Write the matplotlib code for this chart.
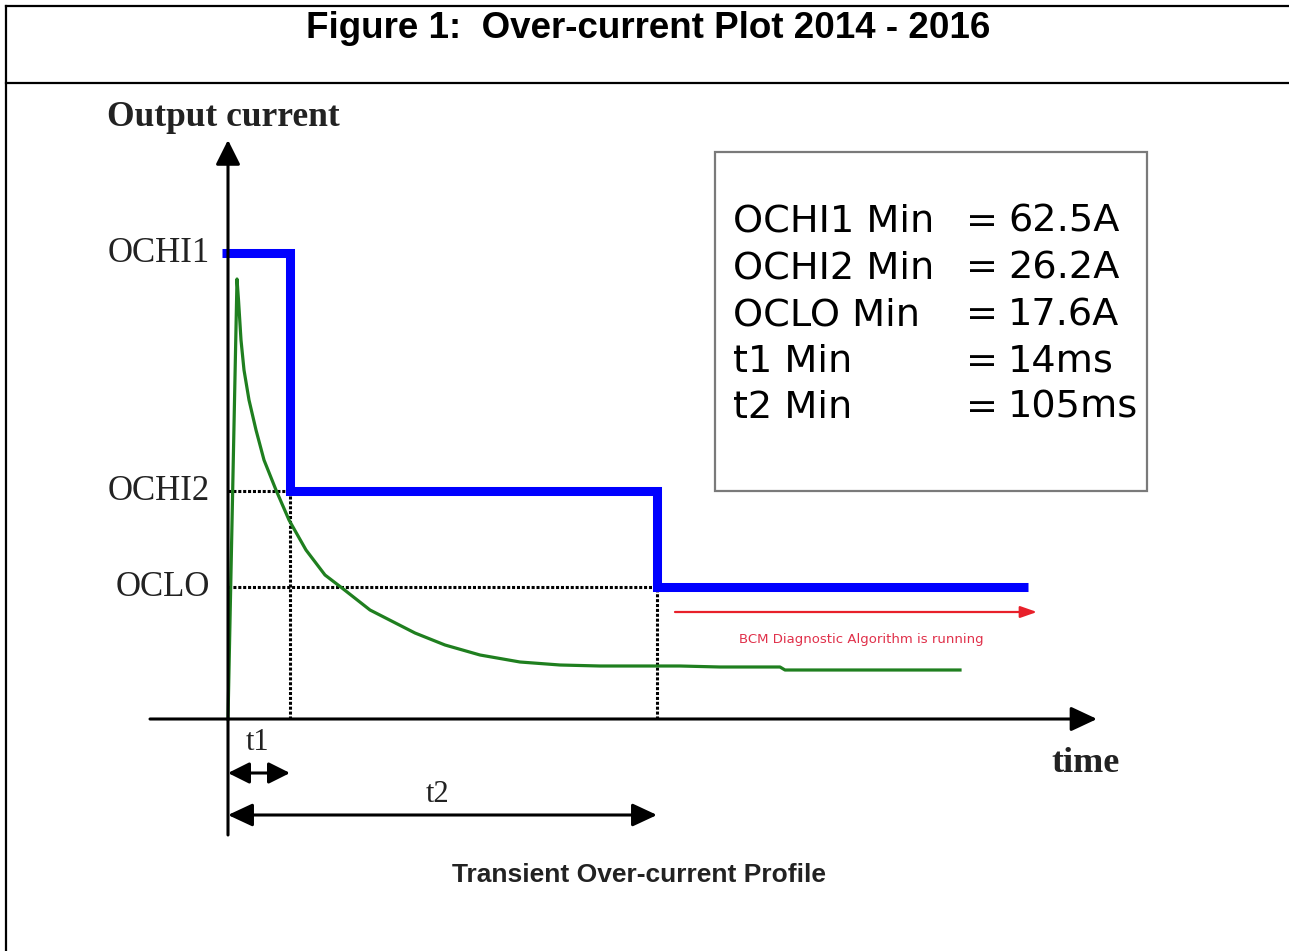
import matplotlib
matplotlib.use('Agg')
import matplotlib.pyplot as plt
from matplotlib.patches import Rectangle
from matplotlib.lines import Line2D

# schematic values (arbitrary units, origin at the axes crossing)
level_names = ['OCHI1', 'OCHI2', 'OCLO']
level_values = [466, 228, 132]
t1 = 62
t2 = 429
t_end = 800

# transient current trace (green)
green_t = [0, 9, 10.5, 13, 16, 21, 28, 36, 48, 61, 78, 97, 114, 142, 187, 217, 252, 292, 332,
           372, 412, 452, 492, 552, 557, 732]
green_i = [0, 440, 419, 379, 349, 319, 289, 259, 229, 199, 169, 144, 131, 109, 86, 74, 64, 57, 54,
           53, 53, 53, 52, 52, 49, 49]

box_names = ['OCHI1 Min', 'OCHI2 Min', 'OCLO Min', 't1 Min', 't2 Min']
box_values = ['62.5A', '26.2A', '17.6A', '14ms', '105ms']

serif = 'Liberation Serif'
sans = 'Liberation Sans'

fig = plt.figure(figsize=(12.89, 9.51), dpi=100)
ax = fig.add_axes([0, 0, 1, 1])
ax.set_xlim(-228, 1061)
ax.set_ylim(-232, 719)
ax.axis('off')

# page frame (table borders)
fig.add_artist(Line2D([6 / 1289, 6 / 1289], [0, 1 - 6 / 951], transform=fig.transFigure, color='k', lw=1.6))
fig.add_artist(Line2D([6 / 1289, 1], [1 - 6 / 951, 1 - 6 / 951], transform=fig.transFigure, color='k', lw=1.6))
fig.add_artist(Line2D([6 / 1289, 1], [1 - 83 / 951, 1 - 83 / 951], transform=fig.transFigure, color='k', lw=1.6))

fig.text(0.503, 1 - 28 / 951, 'Figure 1:  Over-current Plot 2014 - 2016', ha='center', va='center',
         fontsize=26.5, fontweight='bold', family=sans)

# axes with arrow heads
ax.annotate('', xy=(0, 579), xytext=(0, -116),
            arrowprops=dict(arrowstyle='-|>,head_length=1.5,head_width=0.75', lw=2.2, color='k',
                            shrinkA=0, shrinkB=0, mutation_scale=10))
ax.annotate('', xy=(869, 0), xytext=(-78, 0),
            arrowprops=dict(arrowstyle='-|>,head_length=1.6,head_width=0.75', lw=2.2, color='k',
                            shrinkA=0, shrinkB=0, mutation_scale=10))

# dotted guides
dots = (0, (1, 0.6))
ax.plot([0, t1], [level_values[1], level_values[1]], color='k', lw=2.2, ls=dots)
ax.plot([0, t2], [level_values[2], level_values[2]], color='k', lw=2.2, ls=dots)
ax.plot([t1, t1], [0, level_values[1]], color='k', lw=2.2, ls=dots)
ax.plot([t2, t2], [0, level_values[2]], color='k', lw=2.2, ls=dots)

# blue threshold profile
step_t = [-6, t1, t1, t2, t2, t_end]
step_i = [level_values[0], level_values[0], level_values[1], level_values[1], level_values[2], level_values[2]]
ax.plot(step_t, step_i, color='#0000ff', lw=6.5, solid_joinstyle='miter', solid_capstyle='butt')

# green transient
ax.plot(green_t, green_i, color='#1f7f1f', lw=2.3, solid_joinstyle='round')

# level labels
for name, val in zip(level_names, level_values):
    ax.text(-18, val, name, ha='right', va='center', fontsize=25, family=serif, color='#222222')

ax.text(-121, 601, 'Output current', ha='left', va='center', fontsize=25.5, fontweight='bold',
        family=serif, color='#222222')
ax.text(857, -44, 'time', ha='center', va='center', fontsize=26, fontweight='bold', family=serif,
        color='#222222')

# t1 / t2 dimension arrows
ax.annotate('', xy=(t1, -54), xytext=(0, -54),
            arrowprops=dict(arrowstyle='<|-|>,head_length=1.3,head_width=0.65', lw=2.2, color='k',
                            shrinkA=0, shrinkB=0, mutation_scale=10))
ax.annotate('', xy=(t2, -96), xytext=(0, -96),
            arrowprops=dict(arrowstyle='<|-|>,head_length=1.5,head_width=0.7', lw=2.2, color='k',
                            shrinkA=0, shrinkB=0, mutation_scale=10))
ax.text(30, -23, 't1', ha='center', va='center', fontsize=22, family=serif, color='#222222')
ax.text(210, -76, 't2', ha='center', va='center', fontsize=22, family=serif, color='#222222')

# red diagnostic arrow
ax.annotate('', xy=(809, 107), xytext=(447, 107),
            arrowprops=dict(arrowstyle='-|>,head_length=1.0,head_width=0.35', lw=1.6, color='#e8202a',
                            shrinkA=0, shrinkB=0, mutation_scale=10))
ax.text(633, 79, 'BCM Diagnostic Algorithm is running', ha='center', va='center', fontsize=9.5,
        color='#e0304a', family='DejaVu Sans')

# value box
ax.add_patch(Rectangle((487, 228), 432, 339, fill=False, edgecolor='#7a7a7a', lw=1.6))
for k, (nm, vl) in enumerate(zip(box_names, box_values)):
    yy = 497 - k * 46.5
    ax.text(505, yy, nm, ha='left', va='center', fontsize=27.5, family='DejaVu Sans', color='k')
    ax.text(738, yy, '=', ha='left', va='center', fontsize=27.5, family='DejaVu Sans', color='k')
    ax.text(780, yy, vl, ha='left', va='center', fontsize=27.5, family='DejaVu Sans', color='k')

ax.text(411, -156, 'Transient Over-current Profile', ha='center', va='center', fontsize=19,
        fontweight='bold', family=sans, color='#222222')

fig.savefig('out.png', dpi=100)
